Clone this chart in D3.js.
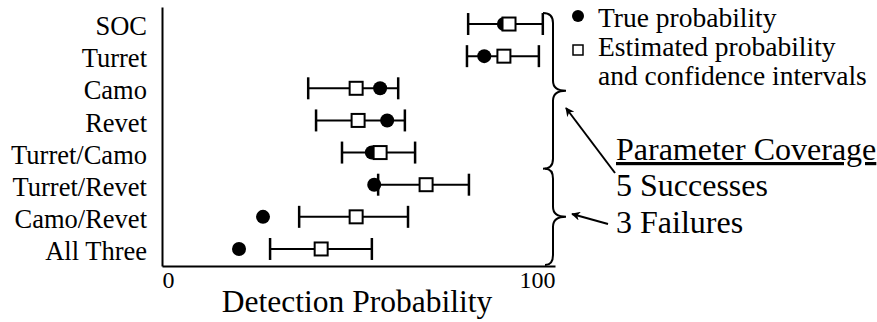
<!DOCTYPE html>
<html>
<head>
<meta charset="utf-8">
<script src="https://cdn.jsdelivr.net/npm/d3@7"></script>
<style>
  html, body { margin: 0; padding: 0; background: #fff; }
  svg { display: block; }
</style>
</head>
<body>
<svg id="chart" width="877" height="322"></svg>
<script>
// Configurations tested, top to bottom
const categories = ['SOC', 'Turret', 'Camo', 'Revet', 'Turret/Camo', 'Turret/Revet', 'Camo/Revet', 'All Three'];
// Detection probability (0-100)
const trueProb = [87, 82, 55.5, 57.3, 53.4, 54, 25.7, 19.6];
const estProb  = [88.3, 87, 49.4, 49.9, 55.5, 67.2, 49.4, 40.5];
const ciLow    = [77.9, 77.6, 37.2, 39.2, 45.8, 55, 34.9, 27.5];
const ciHigh   = [96.9, 95.9, 60.1, 61.8, 64.4, 78.1, 62.6, 53.4];
const xTicks = [0, 100];

const FONT = '"Liberation Serif", Tinos, "Times New Roman", serif';

const svg = d3.select('#chart');

const x = d3.scaleLinear().domain([0, 100]).range([162, 555]);
const y = d3.scalePoint().domain(categories).range([7, 266]).padding(0.53);

const rows = categories.map((c, i) => ({
  cat: c, t: trueProb[i], e: estProb[i], lo: ciLow[i], hi: ciHigh[i]
}));

function label(sel, size) {
  return sel.attr('font-family', FONT).style('font-family', FONT)
    .attr('font-size', size).attr('fill', '#000');
}

// x axis
const xAxis = svg.append('g')
  .attr('transform', 'translate(0,266)')
  .call(d3.axisBottom(x).tickValues(xTicks).tickSize(0).tickPadding(5).tickFormat(d3.format('d')));
xAxis.attr('font-family', FONT);
xAxis.select('.domain').attr('stroke', '#000').attr('stroke-width', 2);
label(xAxis.selectAll('text'), 24)
  .attr('text-anchor', (d, i) => i === 0 ? 'start' : 'end');

// y axis
const yAxis = svg.append('g')
  .attr('transform', 'translate(162,0)')
  .call(d3.axisLeft(y).tickSize(0).tickPadding(15));
yAxis.attr('font-family', FONT);
yAxis.select('.domain').attr('stroke', '#000').attr('stroke-width', 2);
label(yAxis.selectAll('text'), 26.5).attr('dy', '0.4em');

label(svg.append('text'), 31.5)
  .attr('x', 357).attr('y', 312)
  .attr('text-anchor', 'middle')
  .text('Detection Probability');

// error bars
const g = svg.append('g');
const capH = 11;

g.selectAll('.ci')
  .data(rows).enter().append('line')
  .attr('x1', d => x(d.lo)).attr('x2', d => x(d.hi))
  .attr('y1', d => y(d.cat)).attr('y2', d => y(d.cat))
  .attr('stroke', '#000').attr('stroke-width', 2);

['lo', 'hi'].forEach(k => {
  g.selectAll('.cap-' + k)
    .data(rows).enter().append('line')
    .attr('x1', d => x(d[k])).attr('x2', d => x(d[k]))
    .attr('y1', d => y(d.cat) - capH).attr('y2', d => y(d.cat) + capH)
    .attr('stroke', '#000').attr('stroke-width', 2.5);
});

g.selectAll('.truedot')
  .data(rows).enter().append('circle')
  .attr('cx', d => x(d.t)).attr('cy', d => y(d.cat))
  .attr('r', 7).attr('fill', '#000');

const sq = 13;
g.selectAll('.est')
  .data(rows).enter().append('rect')
  .attr('x', d => x(d.e) - sq / 2).attr('y', d => y(d.cat) - sq / 2)
  .attr('width', sq).attr('height', sq)
  .attr('fill', '#fff').attr('stroke', '#000').attr('stroke-width', 2);

// legend
const leg = svg.append('g');
leg.append('circle').attr('cx', 578).attr('cy', 16).attr('r', 6).attr('fill', '#000');
leg.append('rect').attr('x', 573).attr('y', 45).attr('width', 10).attr('height', 10)
  .attr('fill', '#fff').attr('stroke', '#000').attr('stroke-width', 1.5);
label(leg.append('text'), 27.5).attr('x', 598).attr('y', 27).text('True probability');
label(leg.append('text'), 27.5).attr('x', 598).attr('y', 56).text('Estimated probability');
label(leg.append('text'), 27.5).attr('x', 598).attr('y', 85).text('and confidence intervals');

// braces grouping successes and failures
function brace(top, bottom, x0, x1, xt, r) {
  const mid = (top + bottom) / 2;
  return `M${x0},${top} Q${x1},${top} ${x1},${top + r} L${x1},${mid - r} ` +
    `Q${x1},${mid} ${xt},${mid} Q${x1},${mid} ${x1},${mid + r} ` +
    `L${x1},${bottom - r} Q${x1},${bottom} ${x0},${bottom}`;
}
const split = (y('Turret/Camo') + y('Turret/Revet')) / 2;
const braceTop = y('SOC') - 11;
const braceBot = y('All Three') + 16;
svg.append('path')
  .attr('d', brace(braceTop, split, 543, 553, 566, 10))
  .attr('fill', 'none').attr('stroke', '#000').attr('stroke-width', 2);
svg.append('path')
  .attr('d', brace(split, braceBot, 545, 553, 566, 10))
  .attr('fill', 'none').attr('stroke', '#000').attr('stroke-width', 2);

// arrows
svg.append('defs').append('marker')
  .attr('id', 'head').attr('viewBox', '0 0 10 10')
  .attr('refX', 9).attr('refY', 5)
  .attr('markerWidth', 9).attr('markerHeight', 9)
  .attr('markerUnits', 'userSpaceOnUse')
  .attr('orient', 'auto')
  .append('path').attr('d', 'M0,0 L10,5 L0,10 L3,5 Z').attr('fill', '#000');

svg.append('line')
  .attr('x1', 615).attr('y1', 173).attr('x2', 566).attr('y2', 108)
  .attr('stroke', '#000').attr('stroke-width', 2)
  .attr('marker-end', 'url(#head)');
svg.append('line')
  .attr('x1', 608).attr('y1', 224).attr('x2', 572).attr('y2', 214)
  .attr('stroke', '#000').attr('stroke-width', 2)
  .attr('marker-end', 'url(#head)');

label(svg.append('text'), 32).attr('x', 616).attr('y', 160)
  .attr('text-decoration', 'underline').text('Parameter Coverage');
label(svg.append('text'), 32).attr('x', 616).attr('y', 196).text('5 Successes');
label(svg.append('text'), 32).attr('x', 616).attr('y', 233).text('3 Failures');
</script>
</body>
</html>
